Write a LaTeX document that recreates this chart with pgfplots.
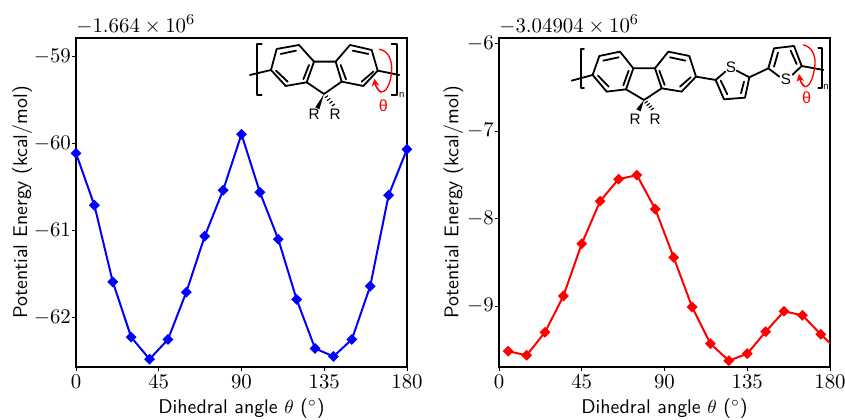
\documentclass[border=0pt]{standalone}
\usepackage{fontspec}
\usepackage{pgfplots}
\pgfplotsset{compat=1.18}
\usetikzlibrary{arrows.meta,calc}
\newfontfamily\arialf{Liberation Sans}
\definecolor{pblue}{RGB}{0,0,255}
\definecolor{pred}{RGB}{255,0,0}
\pgfplotsset{
  chart/.style={
    scale only axis, width=174.27pt, height=173.2pt,
    xmin=0, xmax=180,
    xtick={0,45,90,135,180},
    axis line style={line width=1.05pt},
    tick style={black, line width=0.4pt},
    major tick length=2pt,
    tick align=outside, xtick pos=bottom, ytick pos=left,
    xlabel={\fontsize{10.45}{12}\selectfont\sffamily Dihedral angle $\theta$ ($^\circ$)},
    ylabel={\fontsize{10.45}{12}\selectfont\sffamily Potential Energy (kcal/mol)},
    xlabel style={at={(axis description cs:0.5,-0.125)}, anchor=center},
    tick label style={font=\fontsize{10.95}{12}\selectfont},
    xticklabel style={yshift=1.4pt},
    yticklabel style={xshift=2.8pt},
    y tick label style={/pgf/number format/.cd, fixed, precision=0},
    clip mode=individual,
  },
  series/.style={line width=1.05pt, mark=square*, mark size=1.5pt, mark options={solid, rotate=45}},
}
\begin{document}
\begin{tikzpicture}
\path[use as bounding box] (0,0) rectangle (444.89pt,221.13pt);
\begin{axis}[chart, at={(40.01pt,27.9pt)}, anchor=south west,
  ylabel style={at={(axis description cs:-0.163,0.5)}, anchor=center},
  ymin=-62.565, ymax=-58.79, ytick={-62,-61,-60,-59}]
\addplot[series, color=pblue] coordinates {
(0,-60.112)(10,-60.709)(20,-61.588)(30,-62.222)(40,-62.475)(50,-62.249)(60,-61.706)
(70,-61.064)(80,-60.537)(90,-59.894)(100,-60.560)(110,-61.099)(120,-61.790)(130,-62.352)
(140,-62.444)(150,-62.249)(160,-61.638)(170,-60.594)(180,-60.067)};
\node[anchor=south west, inner sep=0pt, yshift=2pt, font=\fontsize{10.95}{12}\selectfont] at (rel axis cs:0,1) {$-1.664\times10^{6}$};
\end{axis}
\begin{axis}[chart, at={(262.72pt,27.9pt)}, anchor=south west,
  ylabel style={at={(axis description cs:-0.138,0.5)}, anchor=center},
  ymin=-9.695, ymax=-5.94, ytick={-9,-8,-7,-6}]
\addplot[series, color=pred] coordinates {
(5,-9.515)(15,-9.561)(25,-9.299)(35,-8.885)(45,-8.288)(55,-7.802)(65,-7.551)(75,-7.505)
(85,-7.893)(95,-8.444)(105,-9.010)(115,-9.429)(125,-9.623)(135,-9.543)(145,-9.292)
(155,-9.059)(165,-9.105)(175,-9.322)(185,-9.523)};
\node[anchor=south west, inner sep=0pt, yshift=2pt, font=\fontsize{10.95}{12}\selectfont] at (rel axis cs:0,1) {$-3.04904\times10^{6}$};
\end{axis}
% left structure (coordinates in zoomed pixels)
\begin{scope}[shift={(126.36pt,205.34pt)},x=0.1755pt,y=-0.1755pt,line width=0.95pt,line join=round,line cap=round]
\draw (110,57)--(177,45)--(222,95)--(200,157)--(137,168)--(93,120)--cycle;
\draw (287,95)--(330,45)--(395,60)--(413,122)--(370,168)--(305,155)--cycle;
\draw (222,95)--(287,95) (200,157)--(252,192)--(305,155);
\draw (122,72)--(168,62) (207,105)--(190,148) (108,122)--(143,155);
\draw (338,62)--(385,72) (302,105)--(318,148) (400,125)--(365,155);
\draw (30,135)--(93,120) (413,122)--(478,135);
\draw (65,42)--(50,42)--(50,195)--(65,195);
\draw (455,42)--(470,42)--(470,195)--(455,195);
\fill (252,192)--(226,232)--(238,238)--cycle;
\foreach \t in {0.25,0.5,0.75,1}{\draw[line width=0.6pt] ($(252,192)!\t!(280,225)$) ++(-4,3)--++(8,-6);}
\node[font=\arialf\fontsize{8}{9}\selectfont,inner sep=0] at (222,254) {R};
\node[font=\arialf\fontsize{8}{9}\selectfont,inner sep=0] at (285,254) {R};
\node[font=\arialf\fontsize{5}{6}\selectfont,inner sep=0] at (485,196) {n};
\draw[pred,line width=0.7pt] (418,58) .. controls (445,62) and (456,90) .. (455,120) .. controls (453,165) and (435,190) .. (422,186);
\draw[pred,line width=0.85pt,-{Stealth[length=4pt,width=4pt]}] (422,186) .. controls (412,180) and (406,165) .. (403,146);
\node[text=pred,font=\arialf\fontsize{8.5}{9}\selectfont,inner sep=0] at (430,228) {θ};
\end{scope}
% right structure
\begin{scope}[shift={(300.1pt,205.34pt)},x=0.1755pt,y=-0.1755pt,line width=0.95pt,line join=round,line cap=round]
\draw (88,78)--(150,65)--(190,115)--(168,178)--(110,185)--(68,135)--cycle;
\draw (255,115)--(295,65)--(358,78)--(378,140)--(335,185)--(275,175)--cycle;
\draw (190,115)--(255,115) (168,178)--(222,210)--(275,175);
\draw (100,92)--(146,82) (176,122)--(160,166) (84,137)--(116,170);
\draw (300,82)--(346,92) (268,122)--(284,165) (362,142)--(330,170);
\draw (5,152)--(68,135) (378,140)--(437,150) (538,142)--(595,115) (695,108)--(760,120);
\draw (437,150)--(466,125) (500,122)--(538,142)--(525,203)--(462,208)--(437,150);
\draw (452,152)--(472,193) (522,155)--(513,190);
\draw (595,115)--(612,55)--(672,48)--(695,108)--(668,134) (628,140)--(595,115);
\draw (612,110)--(624,68) (662,62)--(680,102);
\draw (42,57)--(32,57)--(32,175)--(42,175);
\draw (745,55)--(755,55)--(755,175)--(745,175);
\fill (222,210)--(199,238)--(212,244)--cycle;
\foreach \t in {0.25,0.5,0.75,1}{\draw[line width=0.6pt] ($(222,210)!\t!(247,237)$) ++(-4,3)--++(8,-6);}
\node[font=\arialf\fontsize{8}{9}\selectfont,inner sep=0] at (195,268) {R};
\node[font=\arialf\fontsize{8}{9}\selectfont,inner sep=0] at (255,268) {R};
\node[font=\arialf\fontsize{8}{9}\selectfont,inner sep=0] at (483,112) {S};
\node[font=\arialf\fontsize{8}{9}\selectfont,inner sep=0] at (648,148) {S};
\node[font=\arialf\fontsize{5}{6}\selectfont,inner sep=0] at (768,172) {n};
\draw[pred,line width=0.7pt] (700,45) .. controls (725,50) and (736,75) .. (735,100) .. controls (733,140) and (718,172) .. (705,170);
\draw[pred,line width=0.85pt,-{Stealth[length=4pt,width=4pt]}] (705,170) .. controls (696,165) and (690,150) .. (687,132);
\node[text=pred,font=\arialf\fontsize{8.5}{9}\selectfont,inner sep=0] at (710,203) {θ};
\end{scope}
\end{tikzpicture}
\end{document}
